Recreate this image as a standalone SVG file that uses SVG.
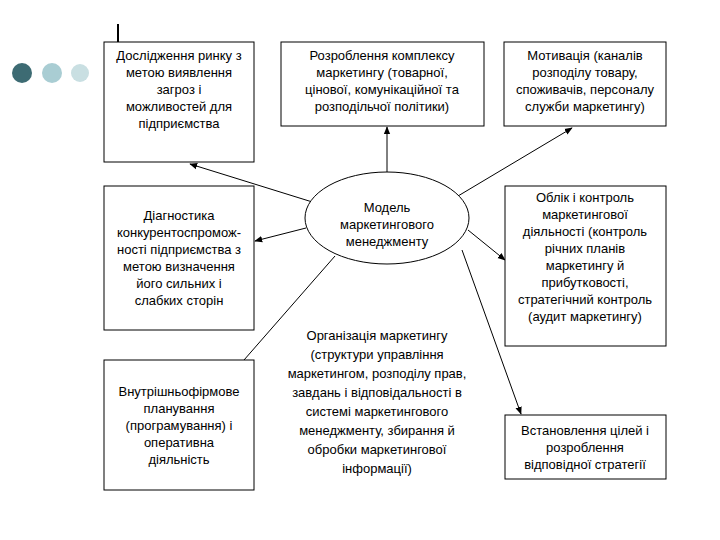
<svg xmlns="http://www.w3.org/2000/svg" width="720" height="540" viewBox="0 0 720 540">
<defs>
<marker id="a" viewBox="0 0 10 10" refX="9" refY="5" markerWidth="8" markerHeight="8" orient="auto"><path d="M0,1 L10,5 L0,9 z" fill="#000"/></marker>
<style>
.b{fill:#fff;stroke:#000;stroke-width:1}
.t{font-family:"Liberation Sans",Arial,sans-serif;font-size:13px;text-anchor:middle;fill:#000}
.c{stroke:#000;stroke-width:1;fill:none;marker-end:url(#a)}
</style>
</defs>
<rect width="720" height="540" fill="#fff"/>
<line x1="118" y1="24" x2="118" y2="42" stroke="#000" stroke-width="2"/>
<circle cx="22" cy="73" r="10" fill="#3d6b73"/>
<circle cx="52" cy="73" r="10" fill="#a9cdd3"/>
<circle cx="80" cy="73" r="9" fill="#c9dfe2"/>
<g id="connectors">
<line class="c" x1="322" y1="205" x2="190" y2="164"/>
<line class="c" x1="387" y1="172" x2="387" y2="127"/>
<line class="c" x1="458" y1="196" x2="572" y2="128"/>
<line class="c" x1="306" y1="228" x2="255" y2="241"/>
<line class="c" x1="468" y1="230" x2="505" y2="260"/>
<line class="c" x1="335" y1="256" x2="230" y2="376"/>
<line class="c" x1="462" y1="250" x2="521" y2="414"/>
</g>
<g id="n1"><rect class="b" x="104" y="42" width="150" height="120"/>
<text class="t" x="179" y="60">Дослідження ринку з</text><text class="t" x="179" y="77">метою виявлення</text><text class="t" x="179" y="94">загроз і</text><text class="t" x="179" y="111">можливостей для</text><text class="t" x="179" y="128">підприємства</text></g>
<g id="n2"><rect class="b" x="281" y="42" width="203" height="84"/>
<text class="t" x="382" y="60">Розроблення комплексу</text><text class="t" x="382" y="77">маркетингу (товарної,</text><text class="t" x="382" y="94">цінової, комунікаційної та</text><text class="t" x="382" y="111">розподільчої політики)</text></g>
<g id="n3"><rect class="b" x="504" y="42" width="162" height="84"/>
<text class="t" x="585" y="60">Мотивація (каналів</text><text class="t" x="585" y="77">розподілу товару,</text><text class="t" x="585" y="94">споживачів, персоналу</text><text class="t" x="585" y="111">служби маркетингу)</text></g>
<g id="n4"><ellipse cx="387" cy="218" rx="82" ry="46" fill="#fff" stroke="#000"/>
<text class="t" x="387" y="212">Модель</text><text class="t" x="387" y="229">маркетингового</text><text class="t" x="387" y="246">менеджменту</text></g>
<g id="n5"><rect class="b" x="104" y="186" width="150" height="144"/>
<text class="t" x="179" y="220">Діагностика</text><text class="t" x="179" y="237">конкурентоспромож-</text><text class="t" x="179" y="254">ності підприємства з</text><text class="t" x="179" y="271">метою визначення</text><text class="t" x="179" y="288">його сильних і</text><text class="t" x="179" y="305">слабких сторін</text></g>
<g id="n6"><rect class="b" x="505" y="186" width="161" height="160"/>
<text class="t" x="585" y="202">Облік і контроль</text><text class="t" x="585" y="219">маркетингової</text><text class="t" x="585" y="236">діяльності (контроль</text><text class="t" x="585" y="253">річних планів</text><text class="t" x="585" y="270">маркетингу й</text><text class="t" x="585" y="287">прибутковості,</text><text class="t" x="585" y="304">стратегічний контроль</text><text class="t" x="585" y="321">(аудит маркетингу)</text></g>
<g id="n7"><rect class="b" x="104" y="360" width="150" height="130"/>
<text class="t" x="179" y="396">Внутрішньофірмове</text><text class="t" x="179" y="413">планування</text><text class="t" x="179" y="430">(програмування) і</text><text class="t" x="179" y="447">оперативна</text><text class="t" x="179" y="464">діяльність</text></g>
<g id="n8">
<text class="t" x="377" y="340">Організація маркетингу</text><text class="t" x="377" y="359">(структури управління</text><text class="t" x="377" y="378">маркетингом, розподілу прав,</text><text class="t" x="377" y="397">завдань і відповідальності в</text><text class="t" x="377" y="416">системі маркетингового</text><text class="t" x="377" y="435">менеджменту, збирання й</text><text class="t" x="377" y="454">обробки маркетингової</text><text class="t" x="377" y="473">інформації)</text></g>
<g id="n9"><rect class="b" x="505" y="415" width="161" height="64"/>
<text class="t" x="585" y="435">Встановлення цілей і</text><text class="t" x="585" y="452">розроблення</text><text class="t" x="585" y="469">відповідної стратегії</text></g>
</svg>
